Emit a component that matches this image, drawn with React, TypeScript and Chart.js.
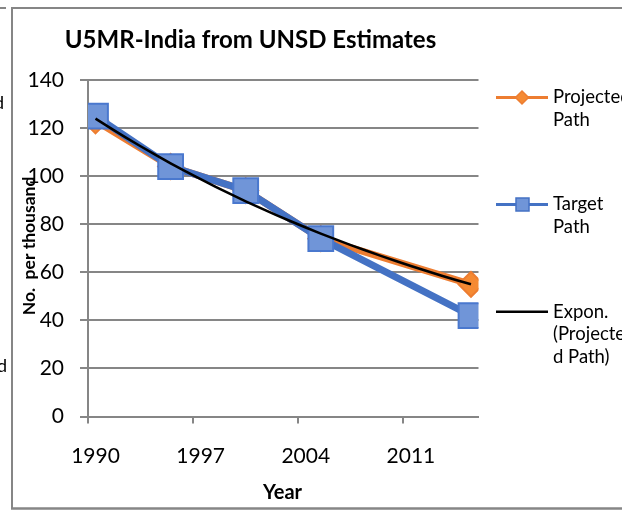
import React, { useEffect, useRef } from "react";
import { Chart, registerables } from "chart.js";

Chart.register(...registerables);

// ---- data ----
const years = [1990, 1995, 2000, 2005, 2015];
const projectedPath = [123, 104, 94, 74, 55];
const targetPath = [125, 104, 94, 74, 42];
const xTickYears = [1990, 1997, 2004, 2011];
const yTickMin = 0;
const yTickMax = 140;
const yTickStep = 20;
const chartTitle = "U5MR-India from UNSD Estimates";
const yAxisTitle = "No.  per thousand";
const xAxisTitle = "Year";
const legendProjected = ["Projected", "Path"];
const legendTarget = ["Target", "Path"];
const legendTrend = ["Expon.", "(Projecte", "d Path)"];

// ---- styles ----
const FONT = "Lato, 'Open Sans', sans-serif";
const GRID = "#868686";
const ORANGE = "#ED7D31";
const ORANGE_FILL = "#F58A33";
const BLUE = "#4472C4";
const BLUE_FILL = "#7095D8";

// least-squares exponential trend (as Excel's "Expon." trendline)
function expFit(xs: number[], ys: number[]) {
  const n = xs.length;
  const x0 = xs[0];
  const X = xs.map((x) => x - x0);
  const L = ys.map((y) => Math.log(y));
  const mx = X.reduce((a, b) => a + b, 0) / n;
  const ml = L.reduce((a, b) => a + b, 0) / n;
  let sxy = 0;
  let sxx = 0;
  for (let i = 0; i < n; i++) {
    sxy += (X[i] - mx) * (L[i] - ml);
    sxx += (X[i] - mx) * (X[i] - mx);
  }
  const b = sxy / sxx;
  const lnA = ml - b * mx;
  return (x: number) => Math.exp(lnA + b * (x - x0));
}

export default function App() {
  const ref = useRef<HTMLCanvasElement>(null);

  useEffect(() => {
    const canvas = ref.current;
    if (!canvas) return;

    const f = expFit(years, projectedPath);
    const trend: { x: number; y: number }[] = [];
    for (let yr = years[0]; yr <= years[years.length - 1]; yr++) {
      trend.push({ x: yr, y: f(yr) });
    }

    const decor = {
      id: "decor",
      afterDraw(chart: any) {
        const ctx = chart.ctx as CanvasRenderingContext2D;
        const xs = chart.scales.x;
        const area = chart.chartArea;
        ctx.save();

        // outer frame (cropped chart border)
        ctx.strokeStyle = GRID;
        ctx.lineWidth = 2;
        ctx.beginPath();
        ctx.moveTo(0, 8);
        ctx.lineTo(6, 8);
        ctx.moveTo(12, 509);
        ctx.lineTo(12, 8);
        ctx.lineTo(622, 8);
        ctx.stroke();
        ctx.lineWidth = 2.5;
        ctx.beginPath();
        ctx.moveTo(11, 508.6);
        ctx.lineTo(622, 508.6);
        ctx.stroke();

        // x tick marks between year slots
        ctx.lineWidth = 2;
        ctx.beginPath();
        xTickYears.forEach((v) => {
          const p = Math.round(xs.getPixelForValue(v - 0.5));
          ctx.moveTo(p, area.bottom);
          ctx.lineTo(p, area.bottom + 7);
        });
        ctx.stroke();

        // cropped neighbour text fragments
        ctx.fillStyle = "#000";
        ctx.font = `18px ${FONT}`;
        ctx.textAlign = "right";
        ctx.textBaseline = "middle";
        ctx.fillText("d", 4, 103);
        ctx.fillText("d", 7, 366);

        // title
        ctx.textAlign = "center";
        ctx.textBaseline = "alphabetic";
        ctx.font = `bold 24px ${FONT}`;
        ctx.fillText(chartTitle, 250.5, 48);

        // x axis title
        ctx.font = `bold 20px ${FONT}`;
        ctx.fillText(xAxisTitle, 282.5, 499);

        // y axis title
        ctx.save();
        ctx.translate(29, 246);
        ctx.rotate(-Math.PI / 2);
        ctx.font = `bold 17.5px ${FONT}`;
        ctx.textBaseline = "middle";
        ctx.fillText(yAxisTitle, 0, 0);
        ctx.restore();

        // legend
        const lx0 = 496;
        const lx1 = 548;
        const tx = 553;
        const lh = 22.6;
        ctx.font = `18.5px ${FONT}`;
        ctx.textAlign = "left";
        ctx.textBaseline = "middle";

        // projected
        let y = 97.5;
        ctx.strokeStyle = ORANGE;
        ctx.lineWidth = 3;
        ctx.beginPath();
        ctx.moveTo(lx0, y);
        ctx.lineTo(lx1, y);
        ctx.stroke();
        ctx.fillStyle = ORANGE_FILL;
        ctx.lineWidth = 1.5;
        ctx.beginPath();
        ctx.moveTo(522, y - 6.5);
        ctx.lineTo(528.5, y);
        ctx.lineTo(522, y + 6.5);
        ctx.lineTo(515.5, y);
        ctx.closePath();
        ctx.fill();
        ctx.stroke();
        ctx.fillStyle = "#000";
        legendProjected.forEach((t, i) => ctx.fillText(t, tx, y + i * lh));

        // target
        y = 204.5;
        ctx.strokeStyle = BLUE;
        ctx.lineWidth = 3;
        ctx.beginPath();
        ctx.moveTo(lx0, y);
        ctx.lineTo(lx1, y);
        ctx.stroke();
        ctx.fillStyle = BLUE_FILL;
        ctx.lineWidth = 1.5;
        ctx.fillRect(516, y - 6.5, 13, 13);
        ctx.strokeRect(516, y - 6.5, 13, 13);
        ctx.fillStyle = "#000";
        legendTarget.forEach((t, i) => ctx.fillText(t, tx, y + i * lh));

        // trend
        y = 311.7;
        ctx.strokeStyle = "#000";
        ctx.lineWidth = 2.5;
        ctx.beginPath();
        ctx.moveTo(lx0, y);
        ctx.lineTo(lx1, y);
        ctx.stroke();
        legendTrend.forEach((t, i) => ctx.fillText(t, tx, y + i * lh));

        ctx.restore();
      },
    };

    const chart = new Chart(canvas, {
      type: "line",
      data: {
        datasets: [
          {
            label: "Expon. (Projected Path)",
            data: trend,
            borderColor: "#000",
            borderWidth: 2.5,
            pointRadius: 0,
            order: 0,
          },
          {
            label: "Target Path",
            data: years.map((x, i) => ({ x, y: targetPath[i] })),
            borderColor: BLUE,
            borderWidth: 7,
            backgroundColor: BLUE_FILL,
            pointStyle: "rect",
            pointRadius: 17.5,
            pointBorderWidth: 2,
            pointBorderColor: "#4A78CE",
            pointBackgroundColor: BLUE_FILL,
            order: 1,
          },
          {
            label: "Projected Path",
            data: years.map((x, i) => ({ x, y: projectedPath[i] })),
            borderColor: ORANGE,
            borderWidth: 7,
            backgroundColor: ORANGE_FILL,
            pointStyle: "rectRot",
            pointRadius: 12.5,
            pointBorderWidth: 2,
            pointBorderColor: ORANGE,
            pointBackgroundColor: ORANGE_FILL,
            order: 2,
          },
        ],
      },
      options: {
        responsive: false,
        animation: false,
        events: [],
        layout: { padding: { left: 0, top: 80, right: 143.5, bottom: 0 } },
        plugins: {
          legend: { display: false },
          title: { display: false },
          tooltip: { enabled: false },
        },
        scales: {
          x: {
            type: "linear",
            min: years[0] - 0.5,
            max: years[years.length - 1] + 0.5,
            afterBuildTicks: (scale: any) => {
              scale.ticks = xTickYears.map((v) => ({ value: v }));
            },
            afterFit: (scale: any) => {
              scale.height = 97.5;
            },
            grid: { display: false, drawTicks: false },
            border: { display: true, color: GRID, width: 2 },
            ticks: {
              color: "#000",
              font: { family: FONT, size: 21 },
              padding: 27,
              maxRotation: 0,
              autoSkip: false,
              callback: (v: any) => String(v),
            },
          },
          y: {
            min: yTickMin,
            max: yTickMax,
            afterFit: (scale: any) => {
              scale.width = 88;
            },
            grid: {
              color: GRID,
              lineWidth: 2,
              drawTicks: true,
              tickLength: 8,
            },
            border: { display: true, color: GRID, width: 2 },
            ticks: {
              stepSize: yTickStep,
              color: "#000",
              font: { family: FONT, size: 21 },
              padding: 16,
            },
          },
        },
      },
      plugins: [decor],
    });

    return () => chart.destroy();
  }, []);

  return (
    <div style={{ position: "absolute", left: 0, top: 0, width: 622, height: 514, background: "#fff" }}>
      <canvas ref={ref} width={622} height={514} style={{ display: "block" }} />
    </div>
  );
}
